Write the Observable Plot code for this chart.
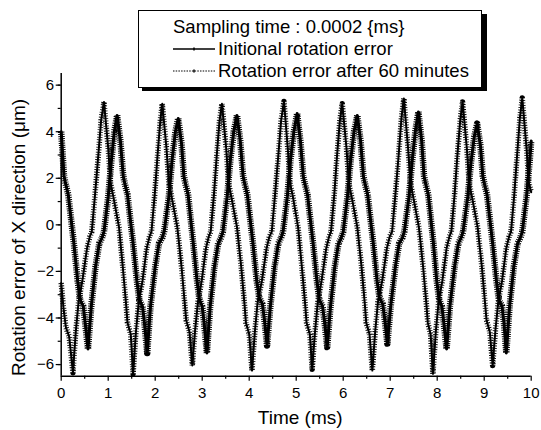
<!DOCTYPE html>
<html>
<head>
<meta charset="utf-8">
<script src="https://cdn.jsdelivr.net/npm/d3@7"></script>
<script src="https://cdn.jsdelivr.net/npm/@observablehq/plot@0.6"></script>
<style>
  body { margin: 0; background: #fff; }
  #wrap { position: relative; width: 541px; height: 430px; font-family: Arial, "Liberation Sans", sans-serif; }
  #wrap > svg { position: absolute; left: 0; top: 0; }
</style>
</head>
<body>
<div id="wrap"></div>
<script>
// ---- data ----
const legendTitle = "Sampling time : 0.0002 {ms}";
const seriesNames = ["Initional rotation error", "Rotation error after 60 minutes"];
const xTicks = [0, 1, 2, 3, 4, 5, 6, 7, 8, 9, 10];
const yTicks = [-6, -4, -2, 0, 2, 4, 6];

// "Rotation error after 60 minutes" (larger amplitude, leads)
const timesA = [0, 0.05, 0.1, 0.17, 0.25,
  0.31, 0.37, 0.45, 0.55, 0.61, 0.65, 0.72, 0.79, 0.85, 0.91,
  1.00, 1.05, 1.11, 1.23, 1.31, 1.38, 1.41, 1.48, 1.53,
  1.59, 1.65, 1.73, 1.82, 1.88, 1.92, 1.99, 2.05, 2.11, 2.15,
  2.24, 2.29, 2.35, 2.47, 2.56, 2.63, 2.66, 2.73, 2.79,
  2.85, 2.91, 2.99, 3.08, 3.14, 3.18, 3.25, 3.31, 3.37, 3.42,
  3.51, 3.56, 3.62, 3.74, 3.83, 3.90, 3.93, 4.00, 4.06,
  4.12, 4.18, 4.27, 4.37, 4.43, 4.48, 4.55, 4.62, 4.68, 4.74,
  4.82, 4.87, 4.93, 5.04, 5.12, 5.19, 5.22, 5.29, 5.34,
  5.40, 5.46, 5.54, 5.64, 5.70, 5.74, 5.81, 5.87, 5.93, 5.98,
  6.07, 6.12, 6.18, 6.30, 6.39, 6.46, 6.49, 6.56, 6.62,
  6.68, 6.74, 6.83, 6.93, 6.99, 7.04, 7.11, 7.18, 7.24, 7.29,
  7.38, 7.43, 7.49, 7.61, 7.70, 7.77, 7.80, 7.86, 7.91,
  7.97, 8.03, 8.11, 8.20, 8.26, 8.30, 8.37, 8.43, 8.49, 8.54,
  8.63, 8.68, 8.74, 8.86, 8.95, 9.02, 9.05, 9.12, 9.18,
  9.24, 9.30, 9.38, 9.47, 9.53, 9.57, 9.64, 9.70, 9.76, 9.81,
  9.90, 9.95, 10.0];
const valuesA = [-2.5, -3.6, -4.4, -4.8, -6.35,
  -4.6, -3.3, -2.4, -1.0, -0.5, -0.3, 1.3, 3.0, 4.5, 5.28,
  3.3, 1.8, 1.2, -0.1, -1.8, -3.4, -4.2, -4.7, -6.4,
  -4.6, -3.3, -2.4, -1.0, -0.5, -0.3, 1.3, 3.0, 4.5, 5.2,
  3.3, 1.8, 1.2, -0.1, -1.8, -3.4, -4.1, -4.6, -6.04,
  -4.5, -3.3, -2.4, -1.0, -0.5, -0.3, 1.3, 3.0, 4.5, 5.2,
  3.3, 1.8, 1.2, -0.1, -1.8, -3.4, -4.2, -4.7, -6.26,
  -4.6, -3.3, -2.4, -1.0, -0.5, -0.3, 1.3, 3.0, 4.5, 5.3,
  3.3, 1.8, 1.2, -0.1, -1.8, -3.4, -4.2, -4.7, -6.2,
  -4.6, -3.3, -2.4, -1.0, -0.5, -0.3, 1.3, 3.0, 4.5, 5.2,
  3.3, 1.8, 1.2, -0.1, -1.8, -3.4, -4.2, -4.7, -6.26,
  -4.6, -3.3, -2.4, -1.0, -0.5, -0.3, 1.3, 3.0, 4.6, 5.43,
  3.3, 1.8, 1.2, -0.1, -1.8, -3.4, -4.2, -4.7, -6.4,
  -4.6, -3.3, -2.4, -1.0, -0.5, -0.3, 1.3, 3.0, 4.5, 5.28,
  3.3, 1.8, 1.2, -0.1, -1.8, -3.4, -4.1, -4.6, -6.04,
  -4.5, -3.3, -2.4, -1.0, -0.5, -0.3, 1.3, 3.0, 4.6, 5.45,
  3.3, 1.8, 1.4];

// "Initional rotation error" (smaller amplitude, lags)
const timesB = [0, 0.06, 0.09, 0.15, 0.27, 0.35, 0.40, 0.47, 0.51, 0.57,
  0.64, 0.73, 0.81, 0.87, 0.91, 1.00, 1.07, 1.13, 1.19,
  1.26, 1.32, 1.35, 1.41, 1.53, 1.61, 1.66, 1.73, 1.77, 1.83,
  1.90, 2.00, 2.08, 2.15, 2.19, 2.29, 2.36, 2.43, 2.49,
  2.56, 2.61, 2.64, 2.70, 2.81, 2.89, 2.94, 3.00, 3.04, 3.10,
  3.17, 3.26, 3.34, 3.40, 3.44, 3.53, 3.60, 3.67, 3.74,
  3.81, 3.87, 3.90, 3.96, 4.08, 4.16, 4.21, 4.28, 4.32, 4.38,
  4.45, 4.54, 4.62, 4.68, 4.72, 4.81, 4.88, 4.95, 5.02,
  5.09, 5.15, 5.18, 5.24, 5.36, 5.44, 5.49, 5.56, 5.60, 5.66,
  5.73, 5.82, 5.90, 5.96, 6.00, 6.09, 6.16, 6.23, 6.30,
  6.37, 6.43, 6.46, 6.52, 6.64, 6.72, 6.77, 6.84, 6.88, 6.94,
  7.01, 7.11, 7.19, 7.26, 7.30, 7.40, 7.47, 7.54, 7.60,
  7.67, 7.72, 7.75, 7.81, 7.92, 7.99, 8.04, 8.10, 8.14, 8.20,
  8.27, 8.37, 8.45, 8.51, 8.55, 8.65, 8.72, 8.79, 8.85,
  8.92, 8.97, 9.00, 9.06, 9.18, 9.26, 9.31, 9.38, 9.42, 9.47,
  9.54, 9.63, 9.71, 9.77, 9.81, 9.90, 9.97, 10.0];
const valuesB = [4.0, 2.1, 1.8, 1.3, -0.8, -2.4, -3.2, -3.5, -4.2, -5.33,
  -3.5, -1.8, -0.8, -0.55, -0.3, 1.2, 2.8, 4.0, 4.7,
  3.6, 2.1, 1.8, 1.3, -0.8, -2.4, -3.2, -3.5, -4.2, -5.5,
  -3.5, -1.8, -0.8, -0.55, -0.3, 1.2, 2.8, 4.0, 4.57,
  3.5, 2.1, 1.8, 1.3, -0.8, -2.4, -3.2, -3.5, -4.2, -5.5,
  -3.5, -1.8, -0.8, -0.55, -0.3, 1.2, 2.8, 4.0, 4.7,
  3.6, 2.1, 1.8, 1.3, -0.8, -2.4, -3.1, -3.4, -4.0, -5.18,
  -3.5, -1.8, -0.8, -0.55, -0.3, 1.2, 2.8, 4.0, 4.78,
  3.6, 2.1, 1.8, 1.3, -0.8, -2.4, -3.2, -3.5, -4.1, -5.25,
  -3.5, -1.8, -0.8, -0.55, -0.3, 1.2, 2.8, 4.0, 4.7,
  3.6, 2.1, 1.8, 1.3, -0.8, -2.4, -3.1, -3.4, -4.0, -5.1,
  -3.5, -1.8, -0.8, -0.55, -0.3, 1.2, 2.8, 4.1, 4.85,
  3.6, 2.1, 1.8, 1.3, -0.8, -2.4, -3.2, -3.5, -4.2, -5.33,
  -3.5, -1.8, -0.8, -0.55, -0.3, 1.2, 2.7, 3.8, 4.35,
  3.4, 2.1, 1.8, 1.3, -0.8, -2.4, -3.2, -3.5, -4.2, -5.5,
  -3.5, -1.8, -0.8, -0.55, -0.3, 1.2, 2.8, 3.6];

const dataA = timesA.map((t, i) => ({t, v: valuesA[i]}));
const dataB = timesB.map((t, i) => ({t, v: valuesB[i]}));

const W = 541, H = 430;
const mL = 60.7, mR = 10.3, mT = 73, mB = 54.3;
const FONT = 'Arial, "Liberation Sans", sans-serif';

const chart = Plot.plot({
  width: W, height: H,
  marginLeft: mL, marginRight: mR, marginTop: mT, marginBottom: mB,
  style: {fontFamily: FONT, background: "white", color: "black", overflow: "visible"},
  x: {domain: [0, 10], axis: null},
  y: {domain: [-6.5, 6.5], axis: null},
  marks: [
    // series A: line carrying "+" markers
    Plot.line(dataA, {x: "t", y: "v", stroke: "black", strokeWidth: 5.5, strokeDasharray: "0.9 1.6", strokeLinecap: "butt"}),
    Plot.line(dataA, {x: "t", y: "v", stroke: "black", strokeWidth: 2}),
    // series B: thicker, denser markers
    Plot.line(dataB, {x: "t", y: "v", stroke: "black", strokeWidth: 6.5, strokeDasharray: "1 1.2", strokeLinecap: "butt"}),
    Plot.line(dataB, {x: "t", y: "v", stroke: "black", strokeWidth: 3}),
    // axes
    Plot.axisX(d3.range(0.5, 10, 1), {tickSize: 3, text: null, label: null, strokeWidth: 1.2}),
    Plot.axisX(xTicks, {tickSize: 5, tickPadding: 6, fontSize: 15, label: null, strokeWidth: 1.2}),
    Plot.axisY(d3.range(-6, 7, 1), {tickSize: 3, text: null, label: null, strokeWidth: 1.2}),
    Plot.axisY(yTicks, {tickSize: 5, tickPadding: 2, fontSize: 15, label: null, strokeWidth: 1.2}),
    Plot.ruleX([0], {stroke: "black", strokeWidth: 1.5}),
    Plot.ruleY([-6.5], {stroke: "black", strokeWidth: 1.5}),
    Plot.text(["Time (ms)"], {frameAnchor: "bottom", dy: 42, dx: 4, fontSize: 19, lineAnchor: "middle", textAnchor: "middle"}),
    Plot.text(["Rotation error of X direction (μm)"], {frameAnchor: "left", dx: -42.7, dy: 12.6, rotate: -90, fontSize: 19, lineAnchor: "middle", textAnchor: "middle"})
  ]
});
document.getElementById("wrap").appendChild(chart);

// ---- legend (overlay box at the top) ----
const lg = d3.select("#wrap").append("svg")
  .attr("width", W).attr("height", 100)
  .style("font-family", FONT);
lg.append("rect").attr("x", 482).attr("y", 14).attr("width", 5).attr("height", 77).attr("fill", "black");
lg.append("rect").attr("x", 142).attr("y", 88).attr("width", 345).attr("height", 3).attr("fill", "black");
lg.append("rect").attr("x", 138.5).attr("y", 10.5).attr("width", 343).attr("height", 77)
  .attr("fill", "white").attr("stroke", "black").attr("stroke-width", 1);
lg.append("text").attr("x", 173).attr("y", 33.3).attr("font-size", 18.5).text(legendTitle);
const rows = [{y: 49, text: seriesNames[0], dash: null, ty: 54.5}, {y: 71, text: seriesNames[1], dash: "1.5 1.2", ty: 76.5}];
for (const r of rows) {
  lg.append("line").attr("x1", 173).attr("x2", 215).attr("y1", r.y).attr("y2", r.y)
    .attr("stroke", "black").attr("stroke-width", r.dash ? 1 : 1.3).attr("stroke-dasharray", r.dash);
  lg.append("line").attr("x1", 194).attr("x2", 194).attr("y1", r.y - 1.5).attr("y2", r.y + 1.5)
    .attr("stroke", "black").attr("stroke-width", 1.5);
  lg.append("text").attr("x", 218).attr("y", r.ty).attr("font-size", 18.5).text(r.text);
}
</script>
</body>
</html>
